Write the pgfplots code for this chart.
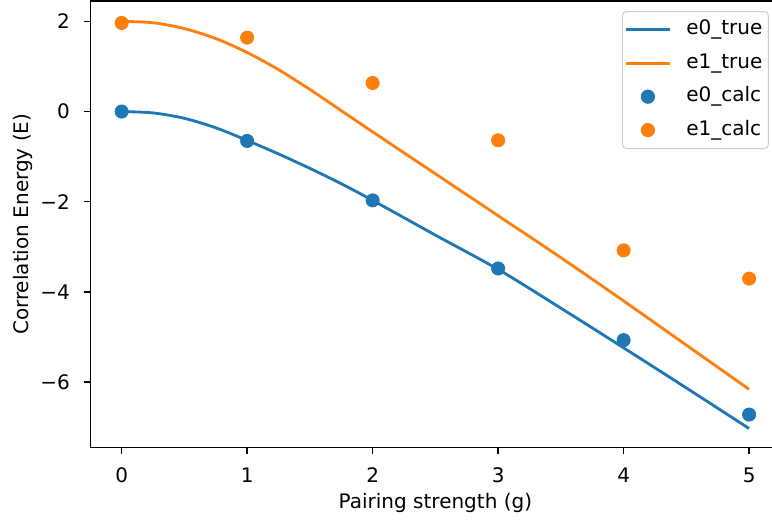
\documentclass[border=0pt]{standalone}
\usepackage{fontspec}
\setmainfont{DejaVu Sans}
\usepackage{pgfplots}
\pgfplotsset{compat=1.18}
\definecolor{tabblue}{HTML}{1F77B4}
\definecolor{taborange}{HTML}{FF7F0E}
\definecolor{legframe}{HTML}{CCCCCC}
\pgfplotsset{
  linelegend/.style={legend image code/.code={\path (0pt,0pt) (27.5pt,0pt); \draw[##1] (0pt,0pt) -- (22pt,0pt);}},
  marklegend/.style={legend image code/.code={\path (0pt,0pt) (27.5pt,0pt); \draw[##1] plot coordinates {(11pt,0pt)};}},
}
\begin{document}
\begin{tikzpicture}
\begin{axis}[
  scale only axis,
  width=345.1pt, height=223.2pt,
  xmin=-0.25, xmax=5.25, ymin=-7.45, ymax=2.45,
  xtick={0,1,2,3,4,5},
  ytick={-6,-4,-2,0,2},
  yticklabels={−6,−4,−2,0,2},
  tick align=outside, tick pos=left,
  major tick length=3.35pt,
  every tick/.style={black, line width=0.7pt},
  axis line style={line width=0.7pt},
  font=\fontsize{10}{12}\selectfont,
  tick label style={font=\fontsize{10}{12}\selectfont},
  xticklabel style={yshift=-3.35pt},
  yticklabel style={xshift=-3.35pt},
  /pgf/number format/assume math mode=true,
  xlabel={Pairing strength (g)},
  ylabel={Correlation Energy (E)},
  xlabel style={at={(axis description cs:0.5,0)}, anchor=base, yshift=-30.5pt},
  ylabel style={at={([xshift=-31pt]axis description cs:0,0.5)}, anchor=base},
  legend style={at={(0.9832,0.9778)}, anchor=north east, draw=legframe,
    rounded corners=2pt, line width=0.5pt, inner xsep=1pt, inner ysep=0.85pt,
    row sep=0pt, font=\fontsize{10}{12}\selectfont,
    nodes={inner xsep=2pt, inner ysep=3.35pt, text height=7.5pt, text depth=2.5pt}},
  legend cell align=left,
]
\addplot[tabblue, line width=1.42pt, smooth, linelegend]
  coordinates {(0,0) (0.25,-0.03) (0.5,-0.15) (0.75,-0.36) (1,-0.64) (1.25,-0.94)
  (1.5,-1.26) (1.75,-1.60) (2,-1.97) (2.5,-2.74) (3,-3.50) (3.5,-4.36) (4,-5.24)
  (4.5,-6.13) (5,-7.03)};
\addlegendentry{e0\_true\hspace{2.5pt}}
\addplot[taborange, line width=1.42pt, smooth, linelegend]
  coordinates {(0,2.00) (0.25,1.97) (0.5,1.84) (0.75,1.62) (1,1.31) (1.25,0.93)
  (1.5,0.49) (1.75,0.02) (2,-0.45) (2.5,-1.38) (3,-2.31) (3.5,-3.24) (4,-4.20)
  (4.5,-5.18) (5,-6.16)};
\addlegendentry{e1\_true\hspace{2.5pt}}
\addplot[only marks, mark=*, mark size=3.3pt, color=tabblue, marklegend]
  coordinates {(0,0) (1,-0.652) (2,-1.97) (3,-3.48) (4,-5.07) (5,-6.72)};
\addlegendentry{e0\_calc\hspace{2.5pt}}
\addplot[only marks, mark=*, mark size=3.3pt, color=taborange, marklegend]
  coordinates {(0,1.965) (1,1.64) (2,0.634) (3,-0.637) (4,-3.077) (5,-3.705)};
\addlegendentry{e1\_calc\hspace{2.5pt}}
\end{axis}
\pgfresetboundingbox
\useasboundingbox ([shift={(-45.15pt,-36.9pt)}]current axis.south west) rectangle ([shift={(340.85pt,0.55pt)}]current axis.north west);
\end{tikzpicture}
\end{document}
